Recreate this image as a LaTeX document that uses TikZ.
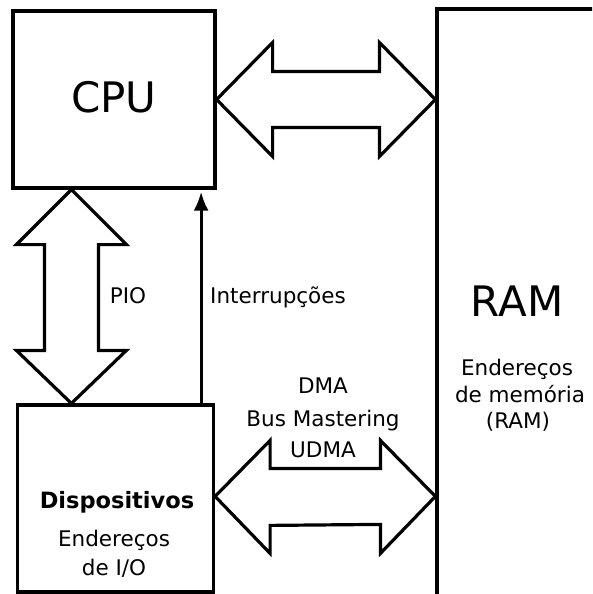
\documentclass[tikz,border=0pt]{standalone}
\usepackage{fontspec}
\setmainfont{DejaVu Sans}
\newfontfamily\boldsans{DejaVu Sans Bold}
\usetikzlibrary{calc,arrows.meta}
\tikzset{
  box/.style={draw, line width=3.2pt, inner sep=0pt},
  blk/.style={draw, line width=3.2pt, line join=miter, fill=white},
  big/.style={font=\fontsize{42}{50}\selectfont, anchor=base, inner sep=0pt},
  lbl/.style={font=\fontsize{21.5}{26}\selectfont, anchor=base, inner sep=0pt},
  blbl/.style={font=\boldsans\fontsize{22.5}{27}\selectfont, anchor=base, inner sep=0pt},
}
\begin{document}
\begin{tikzpicture}[x=1pt,y=-1pt]
\useasboundingbox (0,0) rectangle (592,594);
\clip (0,0) rectangle (592,594);
% boxes
\node[box, minimum width=202pt, minimum height=177pt] (cpu) at (114,99.5) {};
\node[box, minimum width=196pt, minimum height=187pt] (disp) at (115.5,498.5) {};
\node[box, minimum width=220pt, minimum height=640pt] (ram) at (547,329) {};
% top bus CPU <-> RAM
\coordinate (t1) at (cpu.east);
\coordinate (t2) at (t1 -| ram.west);
\draw[blk] (t1) -- ++(56,-57) -- ++(0,29) -- ($(t2)+(-56,-28)$) -- ++(0,-29) -- (t2)
  -- ++(-56,57) -- ++(0,-29) -- ($(t1)+(56,28)$) -- ++(0,29) -- cycle;
% PIO bus CPU <-> devices
\coordinate (p1) at ($(cpu.south west)+(60,0)$);
\coordinate (p2) at (p1 |- disp.north);
\draw[blk] (p1) -- ++(55,55) -- ++(-28,0) -- ($(p2)+(27,-53)$) -- ++(28,0) -- (p2)
  -- ++(-55,-53) -- ++(28,0) -- ($(p1)+(-27,55)$) -- ++(-28,0) -- cycle;
% interrupt line
\coordinate (i1) at ($(disp.north east)+(-14,0)$);
\coordinate (i2) at (i1 |- cpu.south);
\draw[line width=3.2pt, -{Latex[length=19pt,width=15pt]}] (i1) -- ($(i2)+(0,2)$);
% DMA bus devices <-> RAM
\coordinate (d1) at ($(disp.north east)+(0,93)$);
\coordinate (d2) at (d1 -| ram.west);
\draw[blk] (d1) -- ++(55,-56) -- ++(0,28) -- ($(d2)+(-55,-28)$) -- ++(0,-28) -- (d2)
  -- ++(-55,57) -- ++(0,-29) -- ($(d1)+(55,29)$) -- ++(0,28) -- cycle;
% texts
\node[big] (cpulbl) at (114,112) {CPU};
\node[big] (ramlbl) at (517,316) {RAM};
\node[lbl] (ram1) at (517,375) {Endereços};
\node[lbl] (ram2) at (520,402) {de memória};
\node[lbl] (ram3) at (518,428) {(RAM)};
\node[lbl] (pio) at (128,303) {PIO};
\node[lbl, anchor=base west] (irq) at (210,303) {Interrupções};
\node[lbl] (dma1) at (323,393) {DMA};
\node[lbl] (dma2) at (323,426) {Bus Mastering};
\node[lbl] (dma3) at (323,457) {UDMA};
\node[blbl] (dev1) at (117,508) {Dispositivos};
\node[lbl] (dev2) at (114,546) {Endereços};
\node[lbl] (dev3) at (114,575) {de I/O};
\end{tikzpicture}
\end{document}
